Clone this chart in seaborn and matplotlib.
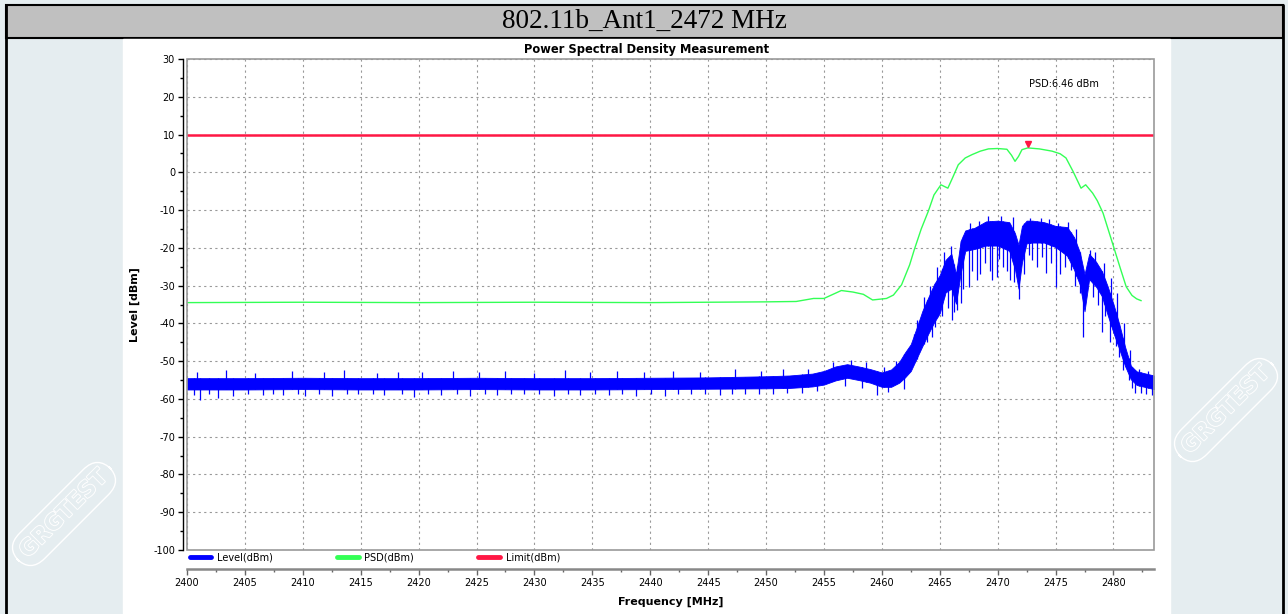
import numpy as np
import matplotlib
matplotlib.use("Agg")
import matplotlib.pyplot as plt
import matplotlib.patheffects as pe
from matplotlib.patches import Rectangle
from matplotlib.lines import Line2D
import seaborn as sns

# ---- data ----
# Level (dBm) trace: upper / lower envelope of the dense noisy sweep
level_freq = [2400, 2405, 2410, 2415, 2420, 2425, 2430, 2435, 2440, 2445, 2450, 2452, 2454,
              2455, 2456, 2457, 2458, 2459, 2460, 2460.8, 2461.5, 2462, 2462.5, 2463, 2463.5,
              2464, 2464.5, 2465, 2465.5, 2466, 2466.4, 2466.8, 2467.2, 2468, 2469, 2470,
              2471, 2471.5, 2471.8, 2472.1, 2472.5, 2473, 2474, 2475, 2476, 2476.6, 2477.1,
              2477.5, 2477.9, 2478.5, 2479, 2479.5, 2480, 2480.5, 2481, 2481.5, 2482, 2483.5]
level_upper = [-54.5, -54.5, -54.4, -54.5, -54.5, -54.4, -54.5, -54.5, -54.4, -54.3, -54.0, -53.8, -53.3,
               -52.6, -51.4, -50.8, -51.4, -52.1, -53.0, -52.2, -50.2, -47.7, -45.5, -41.2, -36.7,
               -33.2, -29.7, -27.2, -23.2, -21.6, -27.0, -18.2, -15.4, -14.7, -13.0, -12.8,
               -13.2, -16.2, -19.2, -14.2, -12.8, -12.8, -13.2, -14.2, -14.5, -17.2, -21.2,
               -27.0, -21.6, -23.7, -26.2, -30.2, -34.9, -40.2, -46.2, -51.2, -52.7, -53.8]
level_lower = [-57.5, -57.5, -57.4, -57.5, -57.5, -57.4, -57.5, -57.5, -57.4, -57.3, -57.2, -57.1, -56.7,
               -56.2, -55.1, -54.4, -55.0, -55.7, -56.8, -56.8, -55.7, -54.3, -52.6, -49.3, -46.0,
               -42.8, -39.8, -37.3, -31.8, -30.8, -34.8, -26.8, -20.8, -20.3, -19.4, -19.4,
               -20.8, -25.8, -30.8, -23.8, -18.8, -18.6, -18.6, -19.8, -22.1, -25.8, -29.8,
               -36.8, -28.3, -30.3, -32.8, -37.8, -42.5, -46.8, -51.3, -54.8, -56.3, -57.4]

# individual downward spikes of the Level sweep (frequency, level)
spike_freq = [2400.6, 2401.1, 2401.9, 2402.7, 2404.0, 2405.3, 2406.6, 2407.4, 2408.3, 2409.6,
              2410.2, 2411.4, 2412.5, 2413.8, 2414.8, 2416.1, 2417.0, 2418.6, 2419.6, 2420.8,
              2421.9, 2423.3, 2424.4, 2425.7, 2426.8, 2428.0, 2429.1, 2430.4, 2431.7, 2432.9,
              2433.9, 2435.2, 2436.4, 2437.6, 2438.8, 2440.1, 2441.3, 2442.4, 2443.5, 2444.7,
              2446.0, 2447.1, 2448.2, 2449.4, 2450.6, 2451.8, 2453.1, 2454.4, 2456.8, 2458.3,
              2459.6, 2460.5, 2461.9,
              2462.8, 2463.2, 2463.9, 2464.3, 2464.6, 2465.2, 2465.7, 2466.1, 2466.2, 2466.5,
              2466.8, 2467.0, 2467.5, 2467.8, 2468.2, 2468.5, 2468.9, 2469.3, 2469.5, 2469.9,
              2470.1, 2470.5, 2470.8, 2471.1, 2471.4, 2471.8, 2472.3, 2472.7, 2473.0, 2473.4,
              2473.8, 2474.2, 2474.6, 2475.0, 2475.4, 2475.8, 2476.3, 2476.7, 2477.1, 2477.4,
              2478.2, 2478.7, 2479.0, 2479.3, 2479.7, 2480.2, 2480.5, 2480.8, 2481.3, 2481.6,
              2481.9, 2482.4, 2482.8, 2483.3]
spike_level = [-59.0, -60.2, -58.8, -59.8, -59.2, -58.7, -59.0, -58.6, -58.9, -58.7,
               -59.1, -58.6, -59.3, -58.7, -58.8, -58.6, -59.0, -58.7, -59.4, -58.6,
               -58.9, -58.7, -59.2, -58.6, -59.0, -58.7, -58.8, -58.6, -59.3, -58.7,
               -59.0, -58.6, -58.9, -58.7, -59.1, -58.6, -59.2, -58.7, -58.8, -58.6,
               -59.0, -58.7, -58.7, -58.6, -58.8, -58.5, -58.4, -58.0, -56.5, -57.0,
               -58.9, -58.2, -57.5,
               -50.0, -47.5, -45.0, -43.5, -41.0, -38.0, -36.0, -39.0, -37.0, -36.5,
               -34.5, -31.0, -30.3, -26.0, -28.5, -27.0, -24.0, -26.0, -28.5, -27.6,
               -23.0, -25.0, -26.0, -28.5, -29.0, -33.6, -27.0, -22.0, -23.2, -25.0,
               -22.5, -26.7, -24.0, -30.3, -27.0, -25.0, -25.8, -30.0, -32.0, -43.5,
               -33.0, -35.0, -42.2, -38.0, -44.9, -46.0, -49.0, -52.4, -55.0, -57.0,
               -58.5, -58.3, -58.8, -59.0]
# individual upward spikes of the Level sweep (frequency, level)
peak_freq = [2400.9, 2403.4, 2405.9, 2409.1, 2411.8, 2413.6, 2416.4, 2418.2, 2420.3, 2423.0,
             2425.2, 2427.5, 2430.0, 2432.6, 2434.8, 2437.1, 2439.5, 2442.0, 2444.3, 2447.3,
             2449.6, 2451.5, 2453.6, 2455.8, 2457.3, 2458.6, 2460.2, 2461.2,
             2463.0, 2463.6, 2464.2, 2464.8, 2465.4, 2466.0, 2467.6, 2468.4, 2469.2, 2470.3,
             2471.3, 2472.8, 2473.7, 2474.4, 2475.2, 2476.1, 2476.8, 2478.0, 2478.4, 2479.2,
             2479.8, 2480.3, 2480.9, 2481.4, 2482.2, 2483.0]
peak_level = [-53.0, -52.3, -53.1, -52.6, -53.0, -52.4, -53.1, -52.8, -53.0, -52.5,
              -53.0, -52.7, -53.1, -52.4, -53.0, -52.6, -53.0, -52.5, -52.9, -52.2,
              -52.6, -52.0, -52.2, -50.2, -49.6, -50.3, -51.5, -50.0,
              -39.0, -33.0, -30.0, -25.0, -21.0, -19.5, -13.5, -13.0, -11.5, -11.7,
              -11.9, -12.0, -12.2, -12.4, -13.5, -13.2, -15.0, -20.5, -21.0, -24.0,
              -28.0, -32.0, -40.0, -47.0, -52.0, -52.5]

# PSD (dBm) trace
psd_freq = [2400, 2410, 2420, 2430, 2440, 2445, 2450, 2452.6, 2454.1, 2455.0, 2456.5, 2457.5,
            2458.4, 2459.2, 2460.4, 2461.0, 2461.7, 2462.4, 2462.8, 2463.4, 2464.0, 2464.5,
            2465.1, 2465.7, 2466.1, 2466.6, 2467.2, 2467.8, 2468.5, 2469.2, 2470.0, 2470.8,
            2471.2, 2471.5, 2471.8, 2472.1, 2472.6, 2473.6, 2474.7, 2475.4, 2475.9, 2476.5,
            2477.2, 2477.6, 2478.2, 2478.6, 2479.1, 2480.0, 2480.6, 2481.1, 2481.6, 2482.0, 2482.4]
psd_level = [-34.5, -34.4, -34.5, -34.4, -34.5, -34.4, -34.3, -34.2, -33.4, -33.4, -31.3, -31.7,
             -32.3, -33.8, -33.4, -32.5, -29.8, -24.5, -20.5, -15.0, -10.4, -6.0,
             -3.3, -4.2, -1.5, 2.0, 3.8, 4.7, 5.6, 6.2, 6.3, 6.1,
             4.5, 2.9, 4.2, 6.0, 6.46, 6.2, 5.6, 4.9, 3.8, 0.3,
             -4.2, -3.3, -5.5, -7.5, -10.8, -19.6, -25.5, -30.3, -32.6, -33.5, -34.0]

# Limit line
limit_freq = [2400, 2483.5]
limit_level = [10, 10]

# PSD peak marker
marker_freq = 2472.6
marker_level = 6.46

PX = 72 / 100  # points per pixel at 100 dpi

# ---- figure ----
sns.set_style("white")
plt.rcParams['font.family'] = ['DejaVu Sans']
plt.rcParams['axes.unicode_minus'] = False
plt.rcParams['text.color'] = 'black'
plt.rcParams['axes.labelcolor'] = 'black'

fig = plt.figure(figsize=(12.88, 6.14), dpi=100)

# page background (pixel coordinates)
bg = fig.add_axes([0, 0, 1, 1], zorder=-5)
bg.set_xlim(0, 1288)
bg.set_ylim(614, 0)
bg.axis('off')
bg.add_patch(Rectangle((0, 0), 1288, 614, color='#e5edf0'))
for wx, wy in [(64, 514), (1226, 410)]:
    bg.text(wx, wy, 'GRGTEST', fontsize=16, fontweight='bold', rotation=45,
            ha='center', va='center', color='#e5edf0',
            path_effects=[pe.withStroke(linewidth=1.3, foreground='white')],
            bbox=dict(boxstyle='round,pad=0.35,rounding_size=0.9', fc='none', ec='white', lw=1.0))
bg.add_patch(Rectangle((6, 5), 1277, 33, facecolor='#c0c0c0', edgecolor='black', lw=1.5))
bg.add_patch(Rectangle((123, 39), 1047, 580, color='white'))
bg.plot([6, 6], [5, 614], color='black', lw=2)
bg.plot([1283, 1283], [5, 614], color='black', lw=2)
bg.text(644, 21, '802.11b_Ant1_2472 MHz', family='Liberation Serif', fontsize=19.5,
        ha='center', va='center')

ax = fig.add_axes([187 / 1288, 1 - 550 / 614, 967 / 1288, 491 / 614])
ax.set_facecolor('white')

# Level sweep
ax.fill_between(level_freq, level_lower, level_upper, color='#0000ff', lw=0.6,
                edgecolor='#0000ff', zorder=3)
ax.vlines(spike_freq, spike_level, np.interp(spike_freq, level_freq, level_upper),
          color='#0000ff', lw=0.9, zorder=3)
ax.vlines(peak_freq, np.interp(peak_freq, level_freq, level_lower), peak_level,
          color='#0000ff', lw=0.9, zorder=3)

sns.lineplot(x=psd_freq, y=psd_level, color='#33ff55', lw=1.0, sort=False, ax=ax, zorder=4)
sns.lineplot(x=limit_freq, y=limit_level, color='#ff1744', lw=1.8, ax=ax, zorder=4)
ax.plot([marker_freq], [marker_level + 1.0], marker='v', color='#ff1744', markersize=5,
        zorder=5)
ax.text(2472.7, 23.4, 'PSD:6.46 dBm', fontsize=7, ha='left', va='center')

ax.set_xlim(2400, 2483.5)
ax.set_ylim(-100, 30)
ax.set_xticks(np.arange(2400, 2481, 5))
ax.set_xticks(np.arange(2400, 2484, 2.5), minor=True)
ax.set_yticks(np.arange(-100, 31, 10))
ax.set_yticks(np.arange(-100, 31, 5), minor=True)
ax.grid(True, which='major', linestyle=(0, (2, 3)), color='#999999', lw=0.8)
ax.set_axisbelow(True)

for s in ['top', 'right']:
    ax.spines[s].set_visible(False)
ax.spines['left'].set_position(('outward', 4 * PX))
ax.spines['left'].set_color('black')
ax.spines['left'].set_linewidth(1.0)
ax.spines['bottom'].set_position(('outward', 19 * PX))
ax.spines['bottom'].set_color('#888888')
ax.spines['bottom'].set_linewidth(1.8)
ax.add_patch(Rectangle((0, 0), 1, 1, transform=ax.transAxes, fill=False,
                       edgecolor='#9a9a9a', lw=1.2, clip_on=False, zorder=6))

ax.tick_params(axis='y', which='major', length=5 * PX, width=1, color='black', labelsize=7,
               labelcolor='black', pad=3 * PX)
ax.tick_params(axis='y', which='minor', length=3 * PX, width=1, color='black')
ax.tick_params(axis='x', which='major', length=6 * PX, width=1, color='#666666', labelsize=7,
               labelcolor='black', pad=3 * PX)
ax.tick_params(axis='x', which='minor', length=3 * PX, width=1, color='#666666')
ax.tick_params(left=True, bottom=True, which='both')

ax.set_xlabel('Frequency [MHz]', fontsize=8, fontweight='bold')
ax.set_ylabel('Level [dBm]', fontsize=8, fontweight='bold')
ax.xaxis.set_label_coords(0.5, -0.096)
ax.yaxis.set_label_coords(-0.0486, 0.5)

fig.text(647 / 1288, 1 - 50 / 614, 'Power Spectral Density Measurement',
         fontsize=8.3, fontweight='bold', ha='center', va='center')

handles = [Line2D([], [], color='#0000ff', lw=3.5),
           Line2D([], [], color='#33ff55', lw=3.5),
           Line2D([], [], color='#ff1744', lw=3.5)]
fig.legend(handles, ['Level(dBm)', 'PSD(dBm)', 'Limit(dBm)'], loc='center left',
           bbox_to_anchor=(190 / 1288, 1 - 557 / 614), ncol=3, frameon=False, fontsize=7,
           handlelength=2.2, handletextpad=0.6, columnspacing=6.6, borderpad=0,
           borderaxespad=0)

fig.savefig('out.png', dpi=100)
